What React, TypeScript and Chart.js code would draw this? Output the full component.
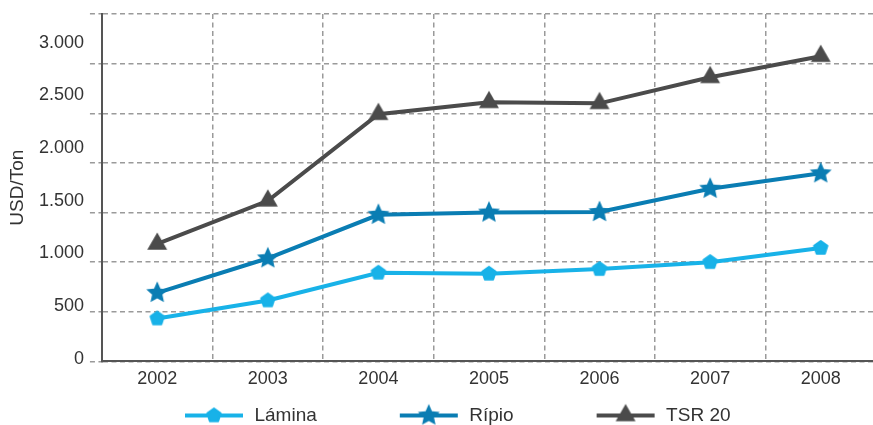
import { useEffect, useRef } from 'react';
import { Chart, registerables } from 'chart.js';

Chart.register(...registerables);

// ---- data ----
const years = ['2002', '2003', '2004', '2005', '2006', '2007', '2008'];
const lamina = [432, 614, 893, 883, 930, 1000, 1143];
const ripio = [691, 1039, 1477, 1500, 1505, 1740, 1895];
const tsr20 = [1183, 1618, 2490, 2610, 2600, 2862, 3075];
const seriesNames = ['Lámina', 'Rípio', 'TSR 20'];
const yTickValues = [0, 500, 1000, 1500, 2000, 2500, 3000];
const yTickLabels = ['0', '500', '1.000', '1.500', '2.000', '2.500', '3.000'];
const yTitle = 'USD/Ton';

// ---- styles ----
const C_LAMINA = '#18b2e8';
const C_RIPIO = '#0a7db3';
const C_TSR = '#4b4b4b';
const GRID = '#9a9a9a';
const AXIS = '#555555';
const TEXT = '#333333';

function mk(w: number, h: number) {
  const c = document.createElement('canvas');
  c.width = w;
  c.height = h;
  return c;
}

function pathPolygon(ctx: CanvasRenderingContext2D, cx: number, cy: number, r: number, n: number) {
  ctx.beginPath();
  for (let i = 0; i < n; i++) {
    const a = -Math.PI / 2 + (i * 2 * Math.PI) / n;
    const x = cx + Math.cos(a) * r;
    const y = cy + Math.sin(a) * r;
    if (i === 0) ctx.moveTo(x, y);
    else ctx.lineTo(x, y);
  }
  ctx.closePath();
}

function pathStar(ctx: CanvasRenderingContext2D, cx: number, cy: number, ro: number, ri: number) {
  ctx.beginPath();
  for (let i = 0; i < 10; i++) {
    const a = -Math.PI / 2 + (i * Math.PI) / 5;
    const r = i % 2 === 0 ? ro : ri;
    const x = cx + Math.cos(a) * r;
    const y = cy + Math.sin(a) * r;
    if (i === 0) ctx.moveTo(x, y);
    else ctx.lineTo(x, y);
  }
  ctx.closePath();
}

type Kind = 'pent' | 'star' | 'tri';

function drawMarker(ctx: CanvasRenderingContext2D, kind: Kind, cx: number, cy: number, color: string) {
  ctx.fillStyle = color;
  ctx.strokeStyle = color;
  ctx.lineJoin = 'round';
  if (kind === 'pent') {
    pathPolygon(ctx, cx, cy, 7, 5);
    ctx.lineWidth = 2;
    ctx.fill();
    ctx.stroke();
  } else if (kind === 'star') {
    pathStar(ctx, cx, cy, 11.5, 5.4);
    ctx.fill();
  } else {
    pathPolygon(ctx, cx, cy, 11.5, 3);
    ctx.fill();
  }
}

function markerCanvas(kind: Kind, color: string) {
  const s = 28;
  const c = mk(s, s);
  const ctx = c.getContext('2d')!;
  drawMarker(ctx, kind, s / 2, s / 2, color);
  return c;
}

const LEGEND_PAD = 9;
const LEGEND_BOX = 134;

function legendCanvas(kind: Kind, color: string) {
  const h = 28;
  const c = mk(LEGEND_BOX, h);
  const ctx = c.getContext('2d')!;
  const x1 = LEGEND_BOX - 2;
  const x0 = x1 - 58;
  const cy = h / 2;
  ctx.strokeStyle = color;
  ctx.lineWidth = 4;
  ctx.beginPath();
  ctx.moveTo(x0, cy);
  ctx.lineTo(x1, cy);
  ctx.stroke();
  drawMarker(ctx, kind, (x0 + x1) / 2, cy, color);
  return c;
}

export default function App() {
  const ref = useRef<HTMLCanvasElement>(null);

  useEffect(() => {
    const canvas = ref.current;
    if (!canvas) return;
    Chart.defaults.font.family = "'Liberation Sans', Arial, Helvetica, sans-serif";

    const kinds: Kind[] = ['pent', 'star', 'tri'];
    const colors = [C_LAMINA, C_RIPIO, C_TSR];
    const legendIcons = kinds.map((k, i) => legendCanvas(k, colors[i]));
    const dash = [5, 3.5];

    const chart = new Chart(canvas, {
      type: 'line',
      data: {
        labels: years,
        datasets: [
          {
            label: seriesNames[0],
            data: lamina,
            borderColor: C_LAMINA,
            backgroundColor: C_LAMINA,
            borderWidth: 4,
            pointStyle: markerCanvas('pent', C_LAMINA),
            yAxisID: 'y',
          },
          {
            label: seriesNames[1],
            data: ripio,
            borderColor: C_RIPIO,
            backgroundColor: C_RIPIO,
            borderWidth: 4,
            pointStyle: markerCanvas('star', C_RIPIO),
            yAxisID: 'y',
          },
          {
            label: seriesNames[2],
            data: tsr20,
            borderColor: C_TSR,
            backgroundColor: C_TSR,
            borderWidth: 4,
            pointStyle: markerCanvas('tri', C_TSR),
            yAxisID: 'y',
          },
        ],
      },
      options: {
        animation: false,
        responsive: false,
        maintainAspectRatio: false,
        events: [],
        layout: { padding: { top: 14, left: 0, right: 0, bottom: 0 } },
        elements: { line: { tension: 0 } },
        scales: {
          x: {
            type: 'category',
            offset: true,
            grid: {
              display: true,
              offset: true,
              drawTicks: false,
              color: GRID,
              lineWidth: 1.5,
            },
            border: { display: true, color: AXIS, width: 2, dash, z: 1 },
            ticks: { padding: 7, color: TEXT, font: { size: 18 }, maxRotation: 0, autoSkip: false },
          },
          y: {
            type: 'linear',
            position: 'left',
            weight: 0,
            min: 0,
            max: 3500,
            ticks: { display: false, stepSize: 500 },
            grid: {
              color: GRID,
              lineWidth: 1.5,
              drawTicks: true,
              tickLength: 12,
              tickBorderDash: dash,
              tickColor: GRID,
            },
            border: { display: true, color: AXIS, width: 2, dash, z: 1 },
          },
          y2: {
            type: 'linear',
            axis: 'y',
            position: 'left',
            weight: 1,
            bounds: 'data',
            min: -25.7,
            max: 3274,
            afterBuildTicks: (scale: any) => {
              scale.ticks = yTickValues.map((v) => ({ value: v }));
            },
            grid: { display: false, drawTicks: true, tickLength: 6, drawOnChartArea: false },
            border: { display: false },
            ticks: {
              padding: 0,
              color: TEXT,
              font: { size: 18 },
              callback: (_v: any, i: number) => yTickLabels[i],
            },
            title: {
              display: true,
              text: yTitle,
              color: TEXT,
              font: { size: 19 },
              padding: { top: 6.6, bottom: 9.5 },
            },
          },
        },
        plugins: {
          tooltip: { enabled: false },
          legend: {
            position: 'bottom',
            align: 'start',
            fullSize: false,
            labels: {
              usePointStyle: true,
              pointStyleWidth: LEGEND_BOX,
              padding: LEGEND_PAD,
              color: TEXT,
              font: { size: 19 },
              generateLabels: (ch: any) => {
                const items = (Chart.defaults.plugins.legend.labels as any).generateLabels(ch);
                return items.map((it: any, i: number) => ({ ...it, pointStyle: legendIcons[i] }));
              },
            },
          },
        },
      } as any,
    });

    return () => chart.destroy();
  }, []);

  return (
    <div
      style={{
        position: 'fixed',
        left: 0,
        top: 0,
        width: 873,
        height: 425,
        overflow: 'hidden',
        background: '#ffffff',
      }}
    >
      <canvas ref={ref} width={884} height={435} style={{ display: 'block', width: 884, height: 435 }} />
    </div>
  );
}
